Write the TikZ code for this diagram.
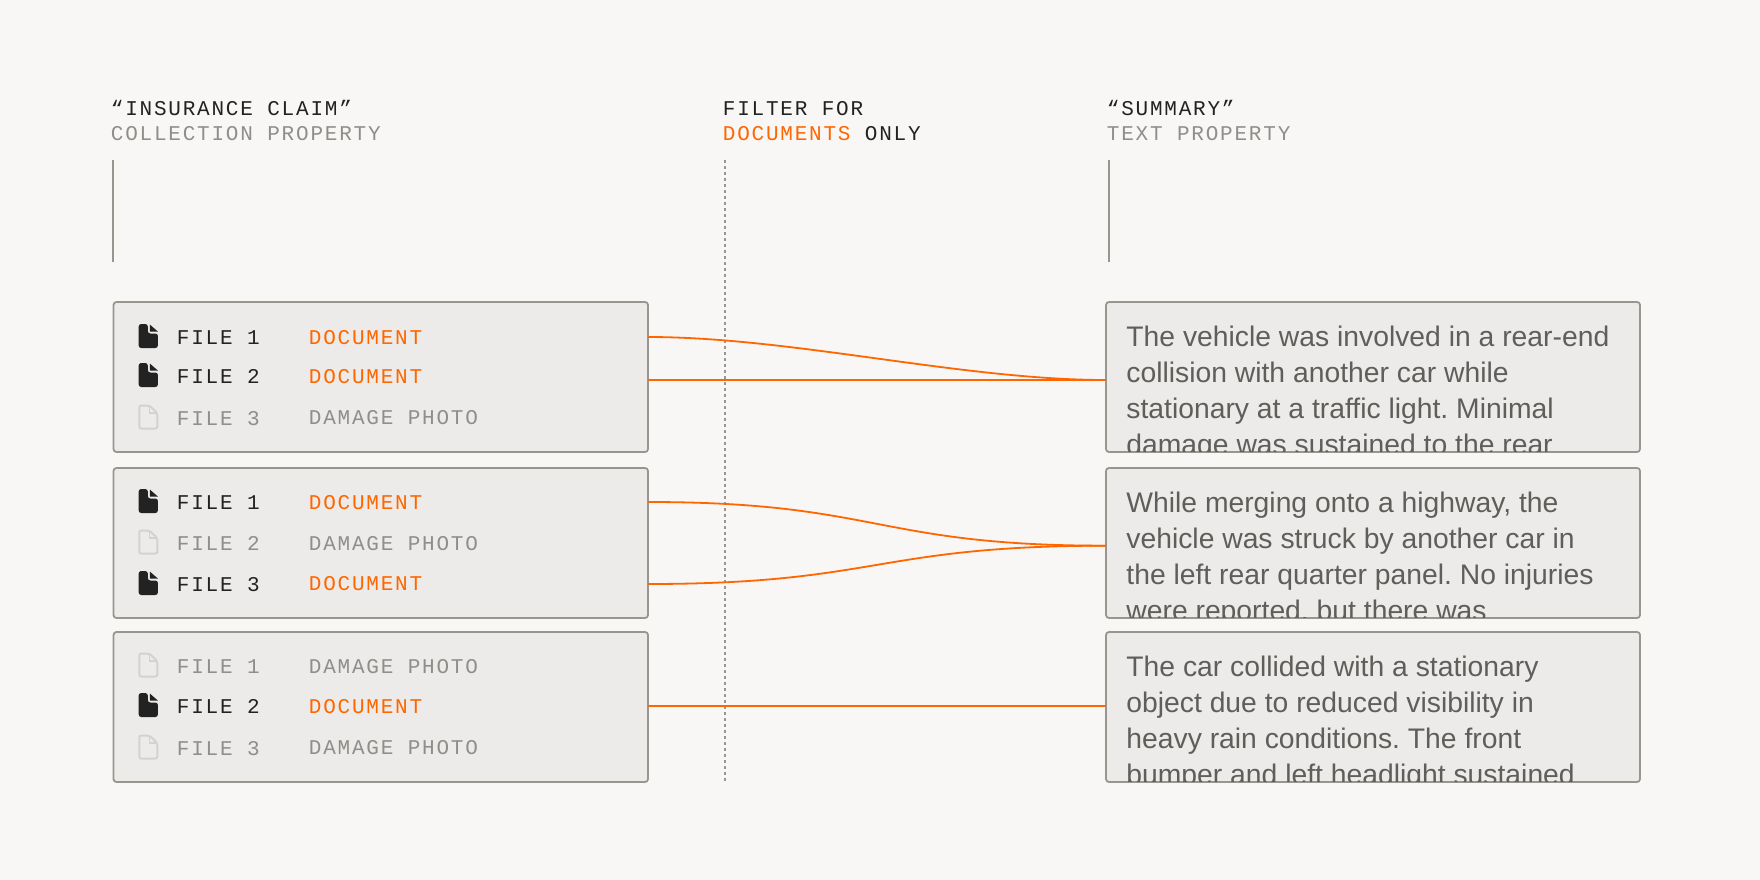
\documentclass[tikz,border=0pt]{standalone}
\usepackage{fontspec}
\setmainfont{Liberation Sans}
\setmonofont{Liberation Mono}[LetterSpace=8.5]
\usetikzlibrary{calc}
\definecolor{cpaper}{HTML}{F8F7F5}
\definecolor{cbox}{HTML}{ECEBE9}
\definecolor{cline}{HTML}{999690}
\definecolor{corange}{HTML}{FF6600}
\definecolor{cink}{HTML}{222222}
\definecolor{cmute}{HTML}{8F8E8A}
\definecolor{cbody}{HTML}{5F5E5B}
\definecolor{cicon}{HTML}{D3D2CF}
\tikzset{
  every picture/.style={line width=1.8pt},
  label/.style={anchor=base west, inner sep=0pt, font=\ttfamily\fontsize{21}{24}\selectfont, text=#1},
  label/.default=cink,
  panel/.style={draw=cline, fill=cbox, rounded corners=3pt, outer sep=0pt, minimum width=#1, minimum height=150pt, inner sep=0pt},
  body/.style={anchor=north west, inner sep=0pt, align=left, text=cbody, font=\frenchspacing\fontsize{28.3}{36}\selectfont},
  link/.style={draw=corange, out=0, in=180, looseness=1.28},
  iconon/.pic={
    \fill[cink, rounded corners=2.5pt] (-9.6,-12) -- (-0.5,-12) -- (-0.5,-2.5) -- (9.6,-2.5) -- (9.6,12) -- (-9.6,12) -- cycle;
    \fill[cink] (1.5,-11.5) -- (9.5,-4.5) -- (1.5,-4.5) -- cycle;
  },
  iconoff/.pic={
    \draw[cicon, line width=2pt, rounded corners=2pt] (-9,-11.5) -- (1,-11.5) -- (9,-4) -- (9,11.5) -- (-9,11.5) -- cycle;
    \draw[cicon, line width=1.2pt] (1,-11.5) -- (1,-4) -- (9,-4);
  },
}
\begin{document}
\begin{tikzpicture}[x=1pt, y=-1pt]
  \fill[cpaper] (0,0) rectangle (1760,880);
  \useasboundingbox (0,0) rectangle (1760,880);
  % headers
  \node[label] (claimtitle) at (110,116) {“INSURANCE CLAIM”};
  \node[label=cmute] (claimsub) at (110,140) {COLLECTION PROPERTY};
  \node[label] (filtertitle) at (722,116) {FILTER FOR};
  \node[label] (filtersub) at (722,140) {\textcolor{corange}{DOCUMENTS} ONLY};
  \node[label] (sumtitle) at (1106,116) {“SUMMARY”};
  \node[label=cmute] (sumsub) at (1106,140) {TEXT PROPERTY};
  \coordinate (claimtop) at (113,160);
  \coordinate (claimend) at (113,262);
  \coordinate (filtertop) at (725,160);
  \coordinate (filterend) at (725,782);
  \coordinate (sumtop) at (1109,160);
  \coordinate (sumend) at (1109,262);
  \draw[cline] (claimtop) -- (claimend);
  \draw[cline] (sumtop) -- (sumend);
  \draw[cline, dash pattern=on 3pt off 3pt] (filtertop) -- (filterend);
  % panels
  \foreach \p/\y in {A/377,B/543,C/707} {
    \node[panel=534.5pt] (claim\p) at (380.75,\y) {};
    \node[panel=534pt] (sum\p) at (1373,\y) {};
  }
  % document rows
  \foreach \n/\y/\yy/\t in {Aa/344/344/FILE 1, Ab/383/383/FILE 2, Ba/509/509/FILE 1, Bc/591/590/FILE 3, Cb/713/713/FILE 2} {
    \pic at (148.3,\y-8) {iconon};
    \node[label] (file\n) at (176,\y) {\t};
    \node[label=corange] (kind\n) at (308,\yy) {DOCUMENT};
  }
  % photo rows
  \foreach \n/\y/\yy/\t in {Ac/425/424/FILE 3, Bb/550/550/FILE 2, Ca/673/673/FILE 1, Cc/755/754/FILE 3} {
    \pic at (148.3,\y-8) {iconoff};
    \node[label=cmute] (file\n) at (176,\y) {\t};
    \node[label=cmute] (kind\n) at (308,\yy) {DAMAGE PHOTO};
  }
  % summaries
  \foreach \p/\txt in {
    A/{The vehicle was involved in a rear-end\\collision with another car while\\stationary at a traffic light. Minimal\\damage was sustained to the rear},
    B/{While merging onto a highway, the\\vehicle was struck by another car in\\the left rear quarter panel. No injuries\\were reported, but there was},
    C/{The car collided with a stationary\\object due to reduced visibility in\\heavy rain conditions. The front\\bumper and left headlight sustained}} {
    \begin{scope}
      \clip ([yshift=.9pt]sum\p.south west) rectangle (sum\p.north east);
      \node[body] (text\p) at ($(sum\p.north west)+(19.5,23)$) {\txt};
    \end{scope}
  }
  % links
  \coordinate (outAa) at (claimA.east |- 0,337);
  \coordinate (outAb) at (claimA.east |- 0,380);
  \coordinate (inA) at (sumA.west |- 0,380);
  \coordinate (outBa) at (claimB.east |- 0,502);
  \coordinate (outBc) at (claimB.east |- 0,584);
  \coordinate (inB) at (sumB.west |- 0,545.7);
  \coordinate (outCb) at (claimC.east |- 0,706);
  \coordinate (inC) at (sumC.west |- 0,706);
  \draw[link, looseness=0.8] (outAa) to (inA);
  \draw[corange] (outAb) -- (inA);
  \draw[link] (outBa) to (inB);
  \draw[link] (outBc) to (inB);
  \draw[corange] (outCb) -- (inC);
\end{tikzpicture}
\end{document}
